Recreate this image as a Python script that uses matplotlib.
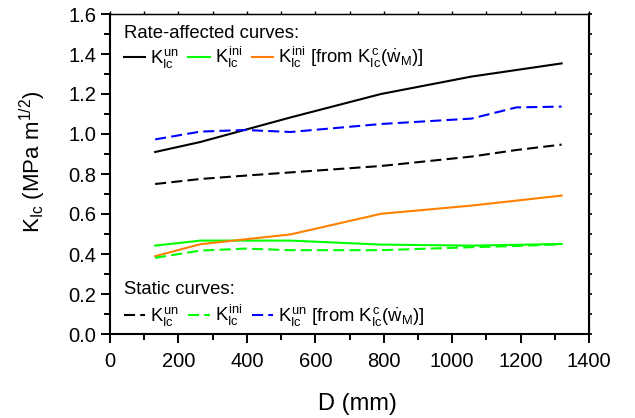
import matplotlib
matplotlib.use("Agg")
import matplotlib.pyplot as plt
from matplotlib.ticker import MultipleLocator, FormatStrFormatter

plt.rcParams['font.family'] = ['Liberation Sans', 'DejaVu Sans']
plt.rcParams['mathtext.fontset'] = 'custom'
plt.rcParams['mathtext.rm'] = 'Liberation Sans'
plt.rcParams['mathtext.it'] = 'Liberation Sans'
plt.rcParams['mathtext.bf'] = 'Liberation Sans:bold'

# Data
D_rate = [132, 264, 528, 792, 1056, 1320]
K_un_rate = [0.91, 0.96, 1.083, 1.20, 1.287, 1.353]
K_ini_rate = [0.442, 0.467, 0.467, 0.447, 0.442, 0.450]
K_ini_from_rate = [0.389, 0.449, 0.498, 0.601, 0.642, 0.692]

D_static = [132, 264, 396, 528, 792, 1056, 1188, 1320]
K_un_static = [0.75, 0.775, 0.792, 0.808, 0.84, 0.887, 0.92, 0.947]
K_ini_static = [0.381, 0.417, 0.427, 0.419, 0.419, 0.434, 0.44, 0.449]
K_un_from_static = [0.973, 1.012, 1.020, 1.01, 1.05, 1.077, 1.133, 1.137]

lab_un = r'$K_{\mathrm{Ic}}^{\mathrm{un}}$'
lab_ini = r'$K_{\mathrm{Ic}}^{\mathrm{ini}}$'
lab_from_ini = r'$K_{\mathrm{Ic}}^{\mathrm{ini}}$ [from $K_{\mathrm{Ic}}^{\mathrm{c}}(\dot{w}_{\mathrm{M}})$]'
lab_from_un = r'$K_{\mathrm{Ic}}^{\mathrm{un}}$ [from $K_{\mathrm{Ic}}^{\mathrm{c}}(\dot{w}_{\mathrm{M}})$]'

W, H = 635, 418
fig = plt.figure(figsize=(W / 100, H / 100), dpi=100)
L, R, T, B = 110, 589, 14, 334
ax = fig.add_axes([L / W, 1 - B / H, (R - L) / W, (B - T) / H])

GREEN = '#00FF00'
ORANGE = '#FF8000'
BLUE = '#0000FF'
lw = 1.5
dash = (5.3, 2.5)
l1, = ax.plot(D_rate, K_un_rate, color='black', lw=lw)
l2, = ax.plot(D_rate, K_ini_rate, color=GREEN, lw=lw)
l3, = ax.plot(D_rate, K_ini_from_rate, color=ORANGE, lw=lw)
s1, = ax.plot(D_static, K_un_static, color='black', lw=lw, ls=(0, dash))
s2, = ax.plot(D_static, K_ini_static, color=GREEN, lw=lw, ls=(0, dash))
s3, = ax.plot(D_static, K_un_from_static, color=BLUE, lw=lw, ls=(0, dash))

ax.set_xlim(0, 1400)
ax.set_ylim(0, 1.6)
ax.xaxis.set_major_locator(MultipleLocator(200))
ax.xaxis.set_minor_locator(MultipleLocator(100))
ax.yaxis.set_major_locator(MultipleLocator(0.2))
ax.yaxis.set_minor_locator(MultipleLocator(0.1))
ax.yaxis.set_major_formatter(FormatStrFormatter('%.1f'))
ax.tick_params(which='both', direction='out', width=1.4, top=False, right=False)
ax.tick_params(which='major', length=6.5, labelsize=14.5)
ax.tick_params(axis='x', which='major', pad=6.5)
ax.tick_params(axis='y', which='major', pad=3.5)
ax.tick_params(which='minor', length=4)
for sp in ax.spines.values():
    sp.set_linewidth(1.5)
ax.spines['top'].set_linewidth(1.0)

# small outward ticks on top and right
secx = ax.secondary_xaxis('top')
secx.xaxis.set_major_locator(MultipleLocator(200))
secx.xaxis.set_minor_locator(MultipleLocator(100))
secx.tick_params(which='both', direction='out', length=2, width=1.0, labeltop=False)
secy = ax.secondary_yaxis('right')
secy.yaxis.set_major_locator(MultipleLocator(0.2))
secy.yaxis.set_minor_locator(MultipleLocator(0.1))
secy.tick_params(which='both', direction='out', length=2, width=1.2, labelright=False)

ax.set_xlabel('D (mm)', fontsize=17)
ax.xaxis.label.set_va('baseline')
ax.xaxis.set_label_coords((357 - L) / (R - L), (B - 410) / (B - T))
ax.set_ylabel(r'K$_{\mathrm{Ic}}$ (MPa m$^{1/2}$)', fontsize=16)
ax.yaxis.label.set_va('baseline')
ax.yaxis.set_label_coords((40 - L) / (R - L), (B - 162) / (B - T))

FS = 13.3
ax.text((124 - L) / (R - L), (B - 38) / (B - T), 'Rate-affected curves:',
        transform=ax.transAxes, fontsize=FS, ha='left', va='baseline')
ax.text((124 - L) / (R - L), (B - 294) / (B - T), 'Static curves:',
        transform=ax.transAxes, fontsize=FS, ha='left', va='baseline')

common = dict(ncol=3, frameon=False, fontsize=FS, handlelength=1.16,
              handletextpad=0.27, columnspacing=0.5, borderaxespad=0,
              borderpad=0, loc='upper left')
leg1 = ax.legend(handles=[l1, l2, l3], labels=[lab_un, lab_ini, lab_from_ini],
                 bbox_to_anchor=(0, 1), **common)
ax.add_artist(leg1)
leg2 = ax.legend(handles=[s1, s2, s3], labels=[lab_un, lab_ini, lab_from_un],
                 bbox_to_anchor=(0, 0.2), **common)

# place legends precisely: first label's K left edge / vertical centre
fig.canvas.draw()
axw, axh = R - L, B - T
for leg, kx, cy in [(leg1, 150, 59), (leg2, 150, 316.5)]:
    bb = leg.get_texts()[0].get_window_extent()
    anchor = leg.get_bbox_to_anchor()
    ax_bb = ax.get_window_extent()
    x0 = (anchor.x0 - ax_bb.x0) / axw
    y1 = (anchor.y1 - ax_bb.y0) / axh
    dx = kx - bb.x0
    dy = (H - cy) - (bb.y0 + bb.y1) / 2
    leg.set_bbox_to_anchor((x0 + dx / axw, y1 + dy / axh), transform=ax.transAxes)

fig.savefig('out.png', dpi=100)
